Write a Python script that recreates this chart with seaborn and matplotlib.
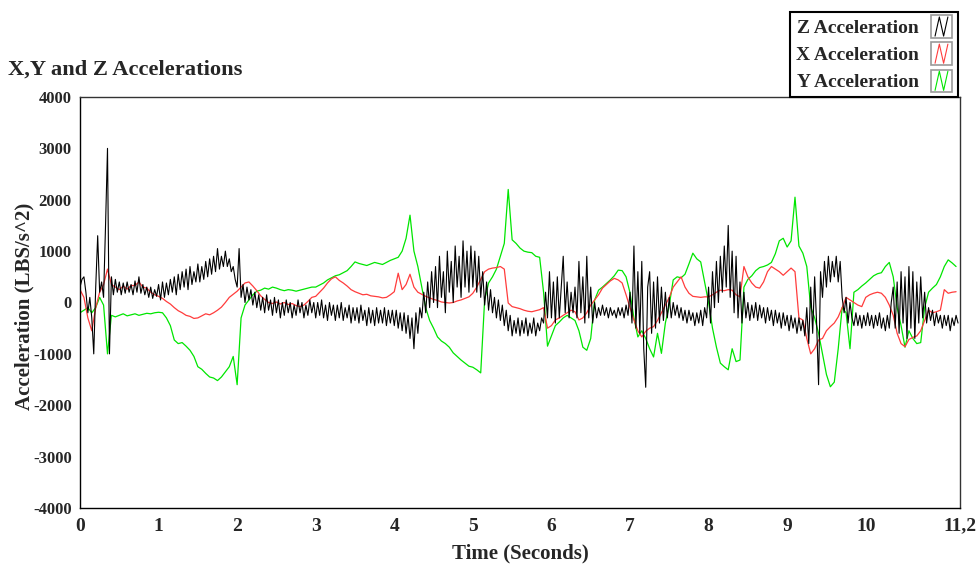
import numpy as np
import pandas as pd
import matplotlib
matplotlib.use("Agg")
import matplotlib.pyplot as plt
import seaborn as sns
from matplotlib.legend_handler import HandlerBase
from matplotlib.patches import Rectangle
from matplotlib.lines import Line2D

# ---------------- data ----------------
# Z acceleration sampled every 0.025 s, X and Y every 0.05 s
time_z = np.round(np.arange(448) * 0.025, 3)
time_xy = np.round(np.arange(224) * 0.05, 2)

z_accel = [
    300, 450, 500, 200, -200, 100, -300, -1000, 300, 1300, 200, 400, 100, 1500, 3000, -1000, 500, 150, 450, 200,
    400, 150, 380, 180, 400, 200, 350, 150, 420, 200, 500, 180, 350, 150, 300, 100, 300, 80, 250, 120,
    350, 50, 400, 100, 380, 150, 450, 200, 500, 150, 550, 250, 600, 300, 650, 250, 700, 350, 600, 400,
    750, 400, 700, 450, 800, 500, 850, 550, 900, 600, 1050, 650, 900, 700, 1000, 700, 850, 600, 700, 450,
    300, 1050, 100, 350, 0, 300, 50, 250, -50, 200, -100, 150, -150, 100, -200, 150, -150, 50, -250, 100,
    -200, 50, -300, 0, -250, 50, -200, 0, -300, -50, -250, 50, -200, 0, -300, -50, -250, 50, -200, 0,
    -300, 0, -250, 50, -300, -50, -350, 0, -250, -50, -350, -50, -300, 0, -350, -100, -300, -50, -400, -100,
    -350, -100, -400, -50, -350, -150, -450, -100, -400, -150, -450, -100, -400, -150, -400, -100, -450, -150, -400, -150,
    -450, -150, -500, -200, -550, -200, -600, -250, -700, -300, -900, -200, -600, -100, -300, 200, -200, 400, -100, 600,
    0, 700, -100, 900, 100, 600, -200, 1000, 200, 800, 0, 1100, 300, 900, 100, 1200, 300, 1000, 200, 1100,
    300, 1000, 200, 900, 100, 600, -50, 400, -150, 250, -200, 100, -300, 50, -350, -50, -450, -150, -550, -250,
    -650, -350, -600, -300, -650, -350, -600, -300, -650, -400, -600, -300, -650, -400, -550, -300, -400, 200, -300, 600,
    -300, 400, -400, 500, -300, 300, 900, -200, 400, -300, 200, -200, 300, -300, 800, -200, 500, -400, 900, -300,
    300, -400, 0, -300, -100, -250, -50, -250, -100, -300, -100, -250, -150, -300, -100, -250, -100, -300, -50, -250,
    200, -400, 1100, -500, 600, -600, 800, -900, -1650, 300, 600, -600, 400, -500, 500, -400, 300, -350, 200, -300,
    100, -300, 0, -250, -50, -300, -100, -350, -150, -400, -150, -350, -200, -450, -200, -400, -150, -450, -100, -300,
    300, -400, 600, -100, 800, 0, 900, 200, 1100, 300, 1500, 100, 1000, -200, 900, -300, 400, -400, 200, -300,
    0, -350, -50, -300, 0, -350, -50, -300, -100, -400, -100, -350, -150, -450, -150, -400, -200, -500, -200, -450,
    -250, -550, -250, -500, -300, -600, -300, -550, -350, -650, -100, -800, 300, -600, 500, -400, -1600, 600, 100, 800,
    300, 900, 400, 800, 500, 900, 400, 800, 100, -200, 100, -400, 0, -300, -450, -200, -450, -250, -500, -250,
    -450, -200, -450, -250, -500, -250, -450, -200, -500, -300, -550, -250, -500, 0, 300, -500, 400, -600, 600, -400,
    500, -700, 700, -500, 600, -700, 400, -400, 500, -300, 200, -400, -100, -350, -150, -450, -200, -400, -250, -500,
    -250, -450, -250, -550, -300, -450, -250, -400,
]

x_accel = [
    250, 100, -300, -550, -100, 200, 350, 650, 350, 300, 250, 320, 260, 330, 330, 400, 300, 280, 200, 150,
    120, 80, 20, -30, -100, -160, -200, -250, -270, -310, -300, -260, -220, -240, -200, -150, -90, 0, 100, 160,
    220, 300, 380, 400, 320, 230, 130, 60, 0, -20, 10, -30, 0, -40, -20, -60, -80, -50, 20, 100,
    120, 200, 280, 380, 460, 500, 430, 380, 320, 250, 210, 180, 150, 160, 130, 120, 110, 90, 100, 150,
    210, 570, 250, 350, 550, 300, 200, 160, 120, 90, 60, 40, 10, 0, -10, 0, 30, 50, 80, 110,
    180, 300, 450, 600, 650, 670, 680, 700, 650, -10, -80, -100, -120, -150, -170, -180, -160, -140, -100, -500,
    -450, -340, -300, -250, -200, -150, -180, -340, -300, -200, -50, 50, 150, 280, 350, 420, 470, 440, 380, 150,
    -100, -340, -550, -670, -560, -500, -470, -350, -200, -50, 100, 300, 400, 500, 300, 180, 120, 110, 100, 110,
    110, 150, 200, 240, 230, 250, 240, 150, 110, 700, 500, 380, 300, 280, 400, 600, 700, 650, 600, 530,
    600, 670, 600, -300, -340, -700, -1000, -900, -730, -700, -550, -470, -400, -280, -100, 100, 50, 0, -50, -80,
    100, 150, 180, 200, 180, 100, -50, -250, -600, -800, -860, -720, -680, -650, -550, -350, -150, -200, -180, -150,
    250, 180, 200, 210,
]

y_accel = [
    -200, -150, -100, -200, -100, 100, -50, -1000, -250, -280, -250, -220, -260, -240, -220, -250, -230, -210, -220, -200,
    -190, -200, -300, -450, -730, -800, -780, -850, -930, -1050, -1250, -1300, -1380, -1450, -1470, -1520, -1450, -1350, -1250, -1050,
    -1600, -300, -50, 50, 150, 220, 240, 280, 260, 300, 280, 250, 230, 250, 240, 220, 240, 260, 280, 300,
    300, 340, 380, 440, 480, 520, 540, 580, 620, 700, 790, 760, 740, 720, 750, 780, 760, 740, 780, 820,
    850, 880, 1000, 1250, 1700, 1000, 700, 300, -100, -350, -500, -670, -750, -800, -870, -980, -1050, -1120, -1180, -1240,
    -1260, -1310, -1370, 50, 380, 500, 650, 900, 1150, 2200, 1220, 1150, 1060, 1000, 980, 970, 900, 880, 200, -850,
    -650, -450, -380, -300, -250, -300, -350, -550, -870, -930, -700, 50, 240, 300, 370, 440, 520, 630, 620, 500,
    190, -300, -670, -550, -700, -900, -1060, -600, -990, -400, -50, 440, 500, 480, 550, 750, 960, 850, 790, 400,
    0, -500, -870, -1180, -1250, -1310, -900, -1150, -1120, 300, 450, 520, 620, 680, 700, 730, 780, 950, 1200, 1250,
    1080, 1200, 2050, 1100, 960, 700, -90, -300, -600, -1000, -1400, -1640, -1550, -900, -100, -200, -900, 200, 250, 320,
    380, 450, 520, 560, 580, 700, 780, 500, -100, -450, -870, -550, -700, -800, -780, -100, 200, 280, 350, 500,
    700, 830, 770, 700,
]

series_names = ["Z Acceleration", "X Acceleration", "Y Acceleration"]
series_colors = ["#000000", "#ff3c3c", "#00e600"]

x_ticks = [0, 1, 2, 3, 4, 5, 6, 7, 8, 9, 10, 11, 11.2]
x_tick_labels = ["0", "1", "2", "3", "4", "5", "6", "7", "8", "9", "10", "", "11,2"]
y_ticks = [-4000, -3000, -2000, -1000, 0, 1000, 2000, 3000, 4000]
y_tick_labels = ["-4000", "-3000", "-2000", "-1000", "0", "1000", "2000", "3000", "4000"]

df = pd.concat([
    pd.DataFrame({"time": time_z, "value": z_accel, "series": series_names[0]}),
    pd.DataFrame({"time": time_xy, "value": x_accel, "series": series_names[1]}),
    pd.DataFrame({"time": time_xy, "value": y_accel, "series": series_names[2]}),
], ignore_index=True)

# ---------------- style ----------------
sns.set_style("white")
plt.rcParams["font.family"] = ["Liberation Serif", "DejaVu Serif"]
plt.rcParams["font.weight"] = "bold"
plt.rcParams["axes.unicode_minus"] = False

fig = plt.figure(figsize=(9.8, 5.67), dpi=100)
ax = fig.add_axes([80 / 980, 1 - 508 / 567, 880 / 980, 411 / 567])

handles = {}
for name, lw in [("Y Acceleration", 0.9), ("X Acceleration", 0.9), ("Z Acceleration", 0.8)]:
    col = series_colors[series_names.index(name)]
    sub = df[df["series"] == name]
    sns.lineplot(data=sub, x="time", y="value", ax=ax, color=col,
                 linewidth=lw, estimator=None, sort=False, legend=False)
    handles[name] = ax.lines[-1]

ax.set_xlim(0, 11.2)
ax.set_ylim(-4000, 4000)
ax.set_xticks(x_ticks)
ax.set_xticklabels(x_tick_labels, fontsize=14, fontweight="bold")
ax.set_yticks(y_ticks)
ax.set_yticklabels(y_tick_labels, fontsize=12, fontweight="bold")
ax.tick_params(axis="both", direction="out", length=4, width=1, color="#333333", pad=2)
ax.tick_params(axis="x", length=4, pad=3)
for sp in ax.spines.values():
    sp.set_visible(True)
    sp.set_color("#333333")
    sp.set_linewidth(1.0)
ax.spines["left"].set_color("#000000")
ax.spines["bottom"].set_color("#000000")

ax.set_xlabel("Time (Seconds)", fontsize=15, fontweight="bold", labelpad=6)
ax.set_ylabel("Acceleration (LBS/s^2)", fontsize=15, fontweight="bold")
ax.yaxis.set_label_coords(-0.052, 0.49)

fig.text(8 / 980, 1 - 70 / 567, "X,Y and Z Accelerations", fontsize=16.2,
         fontweight="bold", ha="left", va="center")


class ZigZagHandler(HandlerBase):
    def create_artists(self, legend, orig_handle, xdescent, ydescent,
                       width, height, fontsize, trans):
        x0, y0 = -xdescent, -ydescent
        rect = Rectangle((x0, y0 - 0.15 * height), width, height * 1.3, fill=False,
                         edgecolor="#999999", linewidth=1.2, transform=trans)
        fr = np.array([0.2, 0.4, 0.6, 0.8])
        lv = np.array([0.0, 1.0, 0.0, 1.0])
        line = Line2D(x0 + width * fr, y0 - 0.05 * height + height * 1.1 * lv,
                      color=orig_handle.get_color(), linewidth=0.8, transform=trans)
        return [rect, line]


leg = fig.legend([handles[n] for n in series_names], series_names,
                 loc="upper right", bbox_to_anchor=(958 / 980, 1 - 12 / 567),
                 bbox_transform=fig.transFigure, borderaxespad=0,
                 markerfirst=False, frameon=True, fancybox=False,
                 edgecolor="#000000", framealpha=1,
                 prop={"family": ["Liberation Serif", "DejaVu Serif"], "weight": "bold", "size": 14},
                 handler_map={Line2D: ZigZagHandler()},
                 handlelength=1.1, handleheight=1.0, handletextpad=0.6,
                 labelspacing=0.4, borderpad=0.3)
leg.get_frame().set_linewidth(1.5)

fig.savefig("out.png", dpi=100)
